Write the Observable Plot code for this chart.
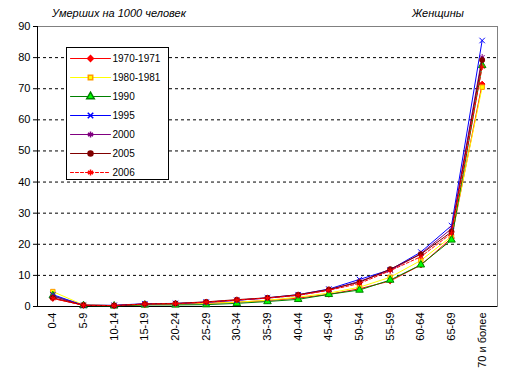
<!DOCTYPE html>
<html><head><meta charset="utf-8">
<script src="https://cdn.jsdelivr.net/npm/d3@7"></script>
<script src="https://cdn.jsdelivr.net/npm/@observablehq/plot@0.6"></script>
<style>
body{margin:0;background:#fff;}
#wrap{position:relative;width:516px;height:385px;font-family:"Liberation Sans",Arial,sans-serif;overflow:hidden;}
.t{position:absolute;font-style:italic;font-size:11px;line-height:13px;color:#000;}
#legend{position:absolute;left:66px;top:47px;width:101px;height:131px;border:1px solid #000;background:#fff;}
#legend svg{display:block;}
#chart{position:absolute;left:0;top:0;}
#chart svg{display:block;}
</style></head><body>
<div id="wrap">
<div id="chart"></div>
<div class="t" style="left:52px;top:7px">Умерших на 1000 человек</div>
<div class="t" style="left:412px;top:7px">Женщины</div>
<div id="legend"></div>
</div>
<script>
const ages = ["0-4","5-9","10-14","15-19","20-24","25-29","30-34","35-39","40-44","45-49","50-54","55-59","60-64","65-69","70 и более"];
const seriesNames = ["1970-1971","1980-1981","1990","1995","2000","2005","2006"];
const v1970 = [2.6, 0.4, 0.3, 0.6, 0.8, 1.0, 1.4, 1.9, 2.7, 3.9, 5.7, 8.2, 13.3, 22.0, 71.5];
const v1980 = [4.8, 0.5, 0.3, 0.6, 0.8, 1.0, 1.4, 2.0, 3.0, 4.3, 6.2, 9.4, 14.8, 22.5, 70.5];
const v1990 = [3.5, 0.3, 0.2, 0.5, 0.5, 0.6, 1.0, 1.6, 2.3, 3.9, 5.3, 8.5, 13.4, 21.4, 77.5];
const v1995 = [3.8, 0.4, 0.4, 0.9, 1.0, 1.4, 2.0, 2.8, 3.8, 5.6, 8.7, 11.8, 17.5, 26.0, 85.5];
const v2000 = [3.3, 0.4, 0.3, 0.8, 0.9, 1.3, 2.0, 2.7, 3.6, 5.3, 8.1, 11.6, 17.0, 25.0, 80.2];
const v2005 = [2.8, 0.4, 0.3, 0.8, 1.0, 1.5, 2.2, 2.8, 3.8, 5.5, 7.8, 12.0, 16.8, 24.0, 79.2];
const v2006 = [2.6, 0.4, 0.3, 0.8, 0.9, 1.4, 2.1, 2.7, 3.6, 5.2, 7.4, 11.5, 16.0, 23.5, 77.0];
const yTicks = [0,10,20,30,40,50,60,70,80,90];

const values = [v1970, v1980, v1990, v1995, v2000, v2005, v2006];
const styles = [
  {line:"#ff0000", symbol:"diamond2", fill:"#ff0000", stroke:"#ff0000", r:2.6},
  {line:"#ffff00", symbol:"square", fill:"#ffff00", stroke:"#ff9900", r:2.5},
  {line:"#008000", symbol:"triangle", fill:"#00ff00", stroke:"#008000", r:2.8},
  {line:"#0000ff", symbol:"times", fill:"none", stroke:"#0000ff", r:2.6},
  {line:"#800080", symbol:"asterisk", fill:"none", stroke:"#800080", r:2.8},
  {line:"#800000", symbol:"circle", fill:"#800000", stroke:"#800000", r:2.5},
  {line:"#ff0000", symbol:"asterisk", fill:"none", stroke:"#ff0000", r:2.8, dash:"3,2"}
];

const rows = [];
seriesNames.forEach((s, k) => values[k].forEach((v, i) => rows.push({series: s, i, age: ages[i], value: v})));

const seriesMarks = [];
seriesNames.forEach((s, k) => {
  const st = styles[k];
  const d = rows.filter(r => r.series === s);
  seriesMarks.push(Plot.line(d, {x: "i", y: "value", stroke: st.line, strokeWidth: 1, strokeDasharray: st.dash}));
  seriesMarks.push(Plot.dot(d, {x: "i", y: "value", symbol: () => st.symbol, fill: st.fill, stroke: st.stroke, r: st.r, strokeWidth: 1}));
});

const chart = Plot.plot({
  width: 516, height: 385,
  marginLeft: 37, marginRight: 19, marginTop: 26, marginBottom: 79,
  style: {fontFamily: "'Liberation Sans', Arial, sans-serif", fontSize: "11px", background: "white", color: "black"},
  x: {domain: [-0.5, ages.length - 0.5]},
  y: {domain: [0, 90]},
  symbol: {type: "identity"},
  marks: [
    Plot.frame({stroke: "#808080"}),
    Plot.ruleY(yTicks.filter(t => t > 0 && t < 90), {stroke: "black", strokeDasharray: "3,3"}),
    Plot.ruleY([0], {stroke: "black"}),
    Plot.ruleX([-0.5], {stroke: "black"}),
    Plot.axisY(yTicks, {tickSize: 4, tickPadding: 3, label: null, fontSize: 11}),
    Plot.axisX(d3.range(ages.length), {tickFormat: i => ages[i], tickRotate: -90, tickSize: 0, tickPadding: 6, label: null, fontSize: 11}),
    ...seriesMarks
  ]
});
document.getElementById("chart").appendChild(chart);

// legend
const legRows = [];
seriesNames.forEach((s, k) => { legRows.push({series: s, k, x: 0}); legRows.push({series: s, k, x: 1}); });
const legMarks = [];
seriesNames.forEach((s, k) => {
  const st = styles[k];
  const d = legRows.filter(r => r.series === s);
  legMarks.push(Plot.line(d, {x: "x", y: "series", stroke: st.line, strokeWidth: 1, strokeDasharray: st.dash}));
  legMarks.push(Plot.dot([{series: s, x: 0.5}], {x: "x", y: "series", symbol: () => st.symbol, fill: st.fill, stroke: st.stroke, r: st.r}));
  legMarks.push(Plot.text([{series: s, x: 1}], {x: "x", y: "series", text: "series", textAnchor: "start", dx: 2, fontSize: 10}));
});
const legend = Plot.plot({
  width: 101, height: 131,
  marginLeft: 3, marginRight: 58, marginTop: 0, marginBottom: 0,
  style: {fontFamily: "'Liberation Sans', Arial, sans-serif", fontSize: "10px", background: "white", color: "black", overflow: "visible"},
  x: {domain: [0, 1], axis: null},
  y: {type: "point", domain: seriesNames, range: [9.5, 123.5], padding: 0, axis: null},
  symbol: {type: "identity"},
  marks: legMarks
});
document.getElementById("legend").appendChild(legend);
</script>
</body></html>
